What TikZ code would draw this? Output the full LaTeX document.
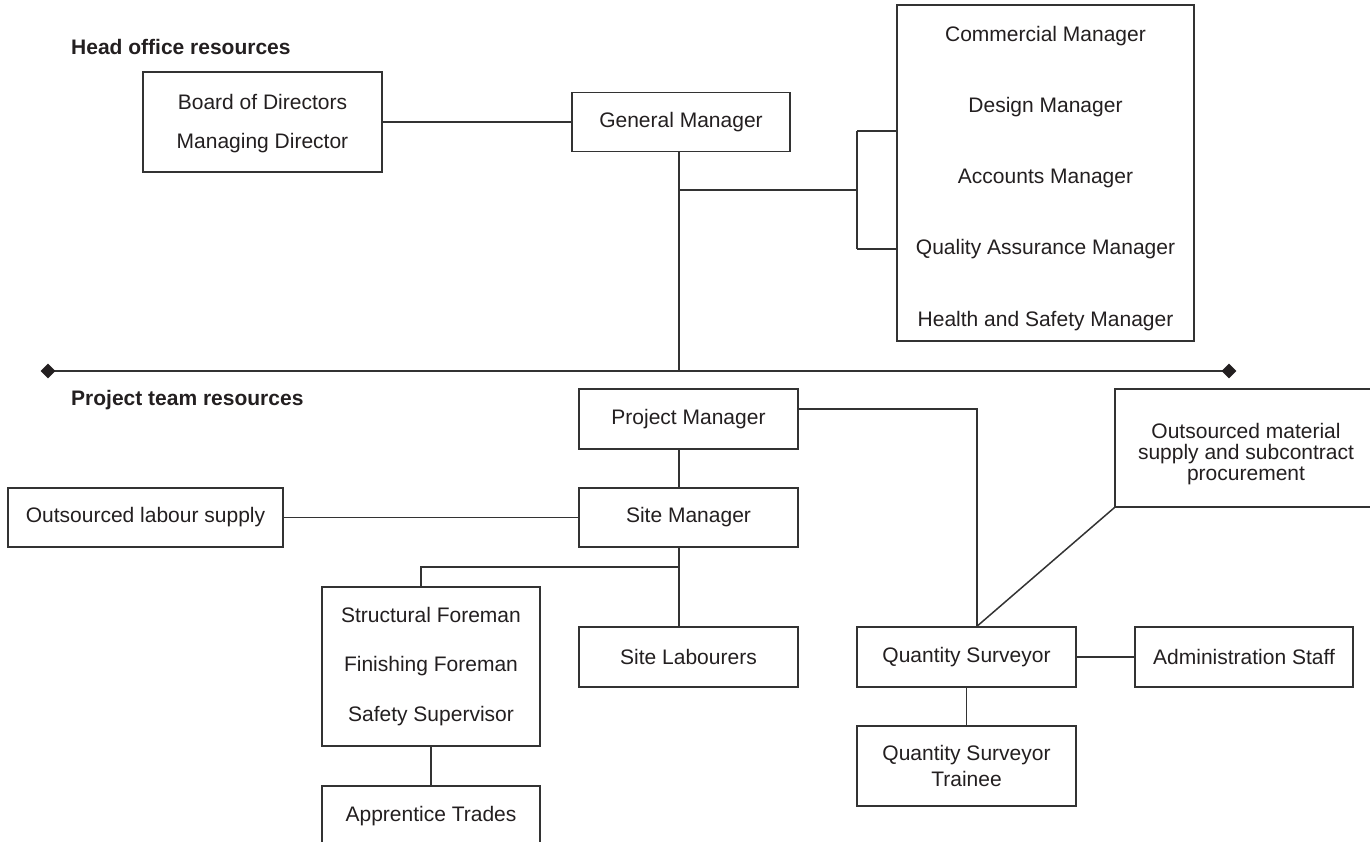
\documentclass[tikz,border=0pt]{standalone}
\usepackage{fontspec}
\setmainfont{Liberation Sans}
\usetikzlibrary{shapes.geometric}
\definecolor{ink}{HTML}{231F20}
\definecolor{rule}{HTML}{333333}
\begin{document}
\begin{tikzpicture}[x=1pt,y=-1pt,
  every node/.style={font=\fontsize{21}{25}\selectfont, text=ink},
  unit/.style={draw=rule, line width=1.5pt, fill=white, inner sep=0pt, align=center},
  heading/.style={font=\fontsize{21}{25}\selectfont\bfseries, anchor=base west, inner sep=0pt},
  link/.style={draw=rule, line width=1.5pt},
  tip/.style={diamond, fill=ink, inner sep=0pt, minimum width=15pt, minimum height=15pt}]
\useasboundingbox (0,0) rectangle (1370,842);
\clip (0,0) rectangle (1370,842);

% section headings
\node[heading] (hohead) at (71,55) {Head office resources};
\node[heading] (pthead) at (71,405) {Project team resources};

% head office
\node[unit, minimum width=239pt, minimum height=100pt] (board) at (262.5,122) {};
\node[align=center, inner sep=0pt] (boardtext) at (262.5,124)
  {Board of Directors\\[14pt]Managing Director};
\node[unit, minimum width=218pt, minimum height=59pt] (gm) at (681,122) {General Manager};
\node[unit, minimum width=297pt, minimum height=336pt] (mgrs) at (1045.5,173) {};
\node (cm)  at (1045.5,36)  {Commercial Manager};
\node (dm)  at (1045.5,107) {Design Manager};
\node (am)  at (1045.5,178) {Accounts Manager};
\node (qam) at (1045.5,249) {Quality Assurance Manager};
\node (hsm) at (1045.5,321) {Health and Safety Manager};

% divider between head office and project team
\coordinate (dlx) at (48,371);
\coordinate (drx) at (1229,371);
\draw[link] (dlx) -- (drx);
\node[tip] (dl) at (dlx) {};
\node[tip] (dr) at (drx) {};

% project team
\node[unit, minimum width=219pt, minimum height=60pt] (pm) at (688.5,419) {Project Manager};
\node[unit, minimum width=219pt, minimum height=59pt] (sm) at (688.5,517.5) {Site Manager};
\node[unit, minimum width=275pt, minimum height=59pt] (labour) at (145.5,517.5) {Outsourced labour supply};
\node[unit, minimum width=218pt, minimum height=159pt] (fm) at (431,666.5)
  {Structural Foreman\\[24.5pt]Finishing Foreman\\[24.5pt]Safety Supervisor};
\node[unit, minimum width=218pt, minimum height=60pt] (appr) at (431,816) {Apprentice Trades};
\node[unit, minimum width=219pt, minimum height=60pt] (sl) at (688.5,657) {Site Labourers};
\node[unit, minimum width=219pt, minimum height=60pt] (qs) at (966.5,657) {Quantity Surveyor};
\node[unit, minimum width=218pt, minimum height=60pt] (admin) at (1244,657) {Administration Staff};
\node[unit, minimum width=219pt, minimum height=80pt] (trainee) at (966.5,766)
  {Quantity Surveyor\\[1pt]Trainee};
\node[unit, minimum width=262pt, minimum height=118pt] (material) at (1246,448) {};
\node[align=center, inner sep=0pt] (materialtext) at (1246,454)
  {Outsourced material\\[-4pt]supply and subcontract\\[-4pt]procurement};

% junction points
\coordinate (spine) at (679,0);
\coordinate (hobr) at (679,190);
\coordinate (brk) at (857,190);
\coordinate (brkt) at (857,131);
\coordinate (brkb) at (857,249);
\coordinate (smbr) at (679,567);
\coordinate (fmbr) at (421,567);
\coordinate (pmr) at (977,409);

% head office connectors
\draw[link] (board.east) -- (gm.west);
\draw[link] (gm.south -| spine) -- (spine |- dl);
\draw[link] (hobr) -- (brk);
\draw[link] (brkt) -- (brkb);
\draw[link] (brkt) -- (brkt -| mgrs.west);
\draw[link] (brkb) -- (brkb -| mgrs.west);

% project team connectors
\draw[link] (pm.south -| spine) -- (sm.north -| spine);
\draw[link] (labour.east) -- (sm.west);
\draw[link] (sm.south -| spine) -- (sl.north -| spine);
\draw[link] (smbr) -- (fmbr) -- (fmbr |- fm.north);
\draw[link] (fm.south) -- (appr.north);
\draw[link] (pm.east |- pmr) -- (pmr) -- (qs.north -| pmr);
\draw[link] (material.south west) -- (qs.north -| pmr);
\draw[link] (qs.east) -- (admin.west);
\draw[link] (qs.south) -- (trainee.north);
\end{tikzpicture}
\end{document}
